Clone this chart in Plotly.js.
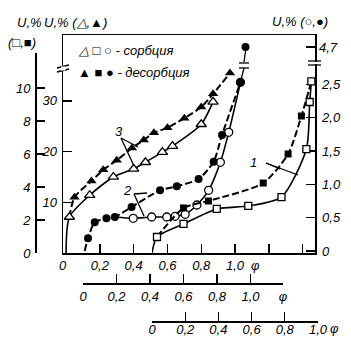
<!DOCTYPE html>
<html><head><meta charset="utf-8">
<script src="https://cdn.plot.ly/plotly-3.0.1.min.js"></script>
<style>html,body{margin:0;padding:0;background:#fff}#c{width:351px;height:340px}</style>
</head><body><div id="c"></div>
<script>
// Curve 3 (triangles) - phi on main axis, U on left axis (△,▲)
const phi3Sorp = [0, 0.02, 0.14, 0.28, 0.40, 0.47, 0.57, 0.63, 0.80, 0.87];
const u3Sorp   = [0, 7.1, 11.4, 15.0, 16.6, 17.9, 19.9, 21.1, 25.4, 29.8];
const phi3Des  = [0.02, 0.05, 0.15, 0.22, 0.30, 0.39, 0.46, 0.52, 0.60, 0.70, 0.80, 0.87, 0.97];
const u3Des    = [7.1, 11.0, 14.2, 16.4, 18.3, 20.7, 22.3, 23.7, 24.7, 26.6, 28.8, 31.4, 35.5];
// Curve 2 (circles) - second phi axis, right U axis (○,●)
const phi2Sorp = [0.19, 0.30, 0.41, 0.50, 0.55, 0.61, 0.68, 0.75, 0.82, 0.87, 0.94];
const u2Sorp   = [0.51, 0.49, 0.51, 0.51, 0.52, 0.55, 0.69, 0.91, 1.33, 1.78, 2.53];
const phi2Des  = [0.01, 0.03, 0.07, 0.14, 0.19, 0.29, 0.46, 0.56, 0.69, 0.78, 0.83, 0.94];
const u2Des    = [0, 0.19, 0.43, 0.49, 0.51, 0.66, 0.91, 0.97, 1.08, 1.34, 1.74, 2.53];
const phi2Top  = [0.97];
const u2Top    = [4.7];
// Curve 1 (squares) - third phi axis, far-left U axis (□,■)
const phi1Sorp = [0, 0.03, 0.19, 0.39, 0.58, 0.78, 0.93, 0.95, 0.96];
const u1Sorp   = [0, 0.97, 1.76, 2.67, 2.85, 3.39, 6.3, 9.15, 10.4];
const phi1Des  = [0.03, 0.19, 0.34, 0.67, 0.82, 0.90, 0.96];
const u1Des    = [0.97, 2.73, 3.15, 4.24, 6.0, 8.3, 10.4];
// Tick labels
const phiTicksMain = [0.2, 0.4, 0.6, 0.8, 1.0, 1.2, 1.4];
const phiLabelsMain = ['0,2', '0,4', '0,6', '0,8', '1,0', '', ''];
const phiTicks2 = [0, 0.2, 0.4, 0.6, 0.8, 1.0, 1.194];
const phiLabels2 = ['0', '0,2', '0,4', '0,6', '0,8', '1,0', 'φ'];
const phiTicks3 = [0, 0.2, 0.4, 0.6, 0.8, 1.0];
const phiLabels3 = ['0', '0,2', '0,4', '0,6', '0,8', '1,0'];
const uTicksTri = [10, 20, 30];
const uTicksCirc = [0, 0.5, 1.0, 1.5, 2.0, 2.5];
const uLabelsCirc = ['0', '0,5', '1,0', '1,5', '2,0', '2,5'];
const uTicksCircTop = [4.7];
const uLabelsCircTop = ['4,7'];
const uTicksSq = [0, 2, 4, 6, 8, 10];

const W = 351, H = 340;
const px = x => x / W, py = y => 1 - y / H;
const F = {family: 'Liberation Sans, Arial, sans-serif', size: 13, color: '#000', style: 'italic'};
const hideFirst = a => a.map((_, i) => i === 0 ? 0 : 1);
const hideFirstLast = a => a.map((_, i) => (i === 0 || i === a.length - 1) ? 0 : 1);
const solid = {color: '#000', width: 1.6, shape: 'spline', smoothing: 0.7};
const dashed = {color: '#000', width: 2, dash: '7px,3px', shape: 'spline', smoothing: 0.7};
const openM = (sym) => ({symbol: sym, size: 8, color: '#fff', line: {color: '#000', width: 1.3}});
const fillM = (sym) => ({symbol: sym, size: 8, color: '#000', line: {color: '#000', width: 0}});

const traces = [
  {x: phi3Des, y: u3Des, xaxis: 'x', yaxis: 'y', mode: 'lines+markers', line: dashed, marker: Object.assign(fillM('triangle-up'), {size: 9, opacity: hideFirst(phi3Des)})},
  {x: phi3Sorp, y: u3Sorp, xaxis: 'x', yaxis: 'y', mode: 'lines+markers', line: solid, marker: Object.assign(openM('triangle-up'), {size: 9, opacity: hideFirst(phi3Sorp)})},
  {x: phi2Sorp, y: u2Sorp, xaxis: 'x2', yaxis: 'y2', mode: 'lines+markers', line: solid, marker: Object.assign(openM('circle'), {opacity: hideFirst(phi2Sorp)})},
  {x: phi2Des, y: u2Des, xaxis: 'x2', yaxis: 'y2', mode: 'lines+markers', line: dashed, marker: Object.assign(fillM('circle'), {opacity: hideFirst(phi2Des)})},
  {x: phi2Top, y: u2Top, xaxis: 'x2', yaxis: 'y4', mode: 'markers', marker: fillM('circle')},
  {x: phi1Des, y: u1Des, xaxis: 'x3', yaxis: 'y3', mode: 'lines+markers', line: dashed, marker: Object.assign(fillM('square'), {size: 7, opacity: hideFirstLast(phi1Des)})},
  {x: phi1Sorp, y: u1Sorp, xaxis: 'x3', yaxis: 'y3', mode: 'lines+markers', line: solid, marker: Object.assign(openM('square'), {size: 7, opacity: hideFirst(phi1Sorp)})}
];

const axBase = {showgrid: false, zeroline: false, showline: true, linecolor: '#000', linewidth: 1.5,
  ticks: 'inside', tickcolor: '#000', tickwidth: 1.3, ticklen: 9, tickfont: F, tickmode: 'array', fixedrange: true};
const ax = o => Object.assign({}, axBase, o);

const yMainDom = [py(253), py(35)];
const layout = {
  width: W, height: H, margin: {l: 0, r: 0, t: 0, b: 0},
  paper_bgcolor: '#fff', plot_bgcolor: 'rgba(0,0,0,0)', showlegend: false,
  xaxis: ax({domain: [px(63), px(315)], range: [-0.018, 1.473], anchor: 'y', mirror: true, tickvals: phiTicksMain, ticktext: phiLabelsMain, ticklabelstandoff: 0}),
  yaxis: ax({domain: yMainDom, range: [0, 43], anchor: 'x', tickvals: uTicksTri, ticktext: uTicksTri.map(String), ticklabelstandoff: 2}),
  yaxis2: ax({overlaying: 'y', side: 'right', anchor: 'x', range: [-0.03, 3.24], tickvals: uTicksCirc, ticktext: uLabelsCirc, ticklabelstandoff: 3}),
  yaxis4: ax({overlaying: 'y', side: 'right', anchor: 'x', range: [1.612, 4.88], showline: false, tickvals: uTicksCircTop, ticktext: uLabelsCircTop, ticklabelstandoff: 3}),
  yaxis3: ax({anchor: 'free', position: px(35), side: 'left', domain: [py(253), py(53)], range: [0, 12.12], tickvals: uTicksSq, ticktext: uTicksSq.map(String), ticklen: 8, ticklabelstandoff: 2}),
  xaxis2: ax({anchor: 'free', position: py(283), domain: [px(83), px(283)], range: [0, 1.194], tickvals: phiTicks2, ticktext: phiLabels2, ticklabelstandoff: 1}),
  xaxis3: ax({anchor: 'free', position: py(321), domain: [px(152), px(318)], range: [0, 1], tickvals: phiTicks3, ticktext: phiLabels3, ticklabelstandoff: -4}),
  annotations: [
    {text: 'U,%', x: px(15), y: py(23), xanchor: 'left'},
    {text: 'U,% (△,▲)', x: px(42), y: py(23), xanchor: 'left'},
    {text: '(□,■)', x: px(6), y: py(42), xanchor: 'left'},
    {text: 'U,% (○,●)', x: px(270), y: py(22), xanchor: 'left'},
    {text: '△ □ ○ - сорбция', x: px(76), y: py(50), xanchor: 'left'},
    {text: '▲ ■ ● - десорбция', x: px(76), y: py(72), xanchor: 'left'},
    {text: '3', x: px(113), y: py(132)},
    {text: '2', x: px(127), y: py(190)},
    {text: '1', x: px(259), y: py(162)},
    {text: '0', x: px(57), y: py(265)},
    {text: 'φ', x: px(262), y: py(265)},
    {text: 'φ', x: px(341), y: py(328)}
  ].map(a => Object.assign({xref: 'paper', yref: 'paper', showarrow: false, yanchor: 'middle', font: F}, a)),
  shapes: [
    // leader lines
    [121, 138, 138, 147], [121, 138, 134, 166],
    [134, 194, 147, 193], [134, 194, 144, 216],
    [266, 163, 280, 169], [266, 163, 298, 175],
    // break marks on curve 2
    [246, 48, 244, 62], [239, 63, 249, 63], [239, 68, 249, 68], [244, 68, 241, 80],
    // break marks on axes
    [57, 68, 69, 65], [57, 72, 69, 69],
    [308, 61, 321, 61], [308, 65, 321, 65]
  ].map(s => ({type: 'line', xref: 'paper', yref: 'paper', x0: px(s[0]), y0: py(s[1]), x1: px(s[2]), y1: py(s[3]), line: {color: '#000', width: 1.3}}))
  .concat([
    {type: 'rect', xref: 'paper', yref: 'paper', x0: px(61), x1: px(65.5), y0: py(70.5), y1: py(66.5), fillcolor: '#fff', line: {width: 0}, layer: 'above'},
    {type: 'rect', xref: 'paper', yref: 'paper', x0: px(313), x1: px(317.5), y0: py(64), y1: py(62), fillcolor: '#fff', line: {width: 0}, layer: 'above'}
  ])
};
Plotly.newPlot('c', traces, layout, {staticPlot: true});
</script></body></html>
